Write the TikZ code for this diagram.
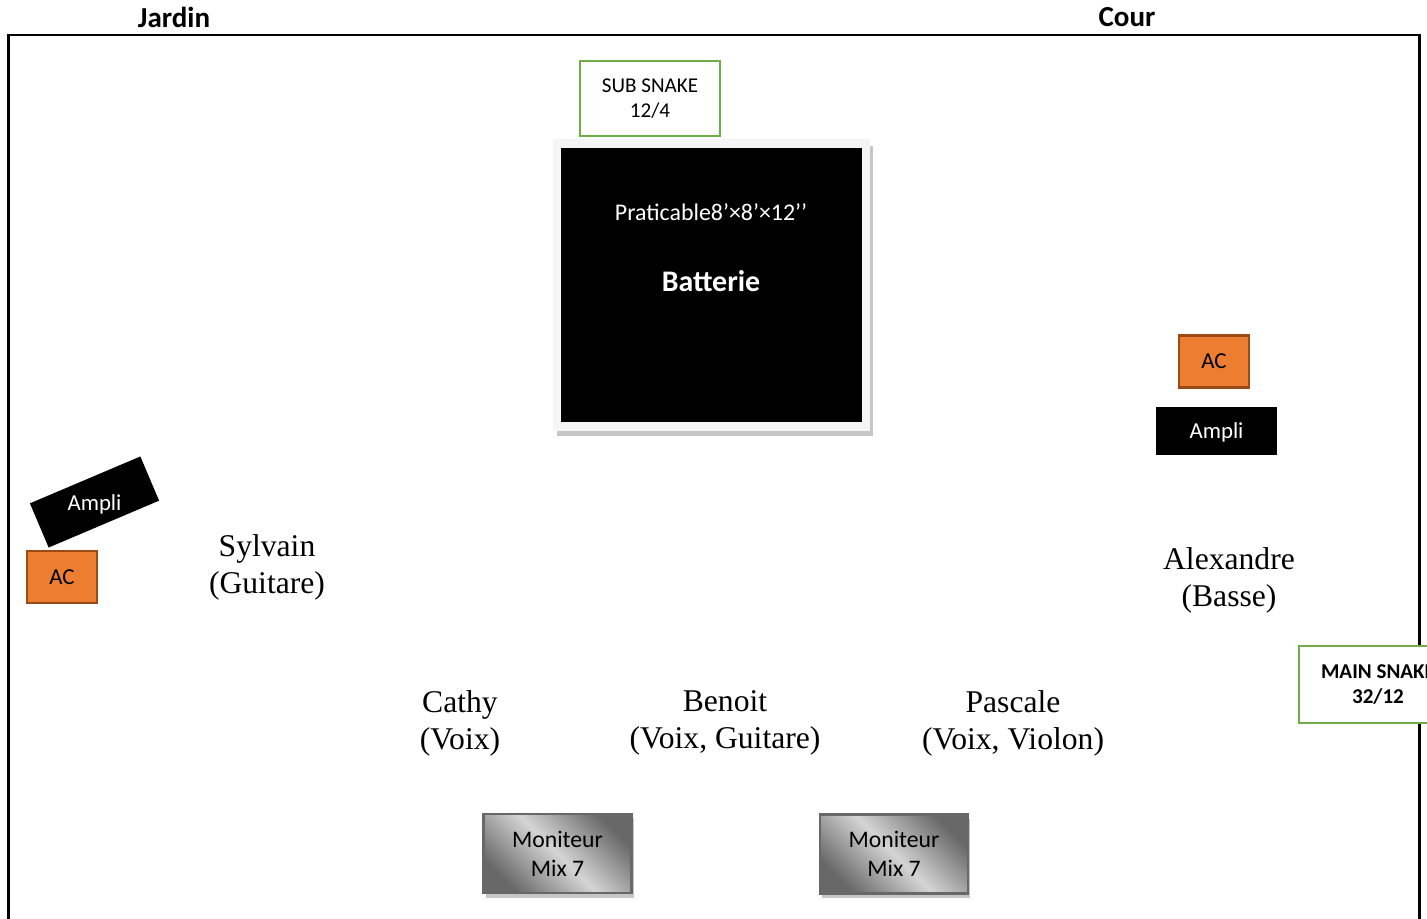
\documentclass[tikz,border=0pt]{standalone}
\usepackage{fontspec}
\setmainfont{Carlito}
\newfontfamily\namefont{Liberation Serif}
\definecolor{snakegreen}{HTML}{70AD47}
\definecolor{acorange}{HTML}{ED7D31}
\definecolor{acedge}{HTML}{9A4A14}
\definecolor{mondark}{HTML}{686868}
\definecolor{monlight}{HTML}{D4D4D4}
\pgfdeclarehorizontalshading{monshade}{100bp}{color(0bp)=(mondark); color(25bp)=(mondark);
    color(50bp)=(monlight); color(75bp)=(mondark); color(100bp)=(mondark)}
\begin{document}
\begin{tikzpicture}[x=0.02cm, y=-0.02cm,
    side/.style={font=\fontsize{16.5}{19}\selectfont\bfseries},
    tag/.style={font=\fontsize{13}{15}\selectfont, align=center},
    musician/.style={font=\namefont\fontsize{18}{21}\selectfont, align=center},
    snakebox/.style={draw=snakegreen, line width=1.2pt, fill=white, inner sep=0pt, align=center},
    acbox/.style={draw=acedge, line width=1.2pt, fill=acorange, inner sep=0pt,
        minimum width=1.4cm, minimum height=1.04cm, tag},
    amplibox/.style={fill=black, inner sep=0pt, minimum width=2.42cm, minimum height=0.96cm},
    monbox/.style={draw=mondark, line width=1.2pt, inner sep=0pt,
        shading=monshade, shading angle=45,
        minimum width=2.96cm, minimum height=1.58cm,
        font=\fontsize{13.5}{16.5}\selectfont, align=center}]
\useasboundingbox (0,0) rectangle (1427,919);

% Stage outline
\draw[line width=1.7pt] (8.5,930) -- (8.5,35) -- (1419.5,35) -- (1419.5,930);
\node[side] (jardin) at (174,17) {Jardin};
\node[side] (cour) at (1127,17) {Cour};

% Drum riser
\fill[gray!45] (557,146) rectangle (873,436);
\fill[gray!8] (553,139) rectangle (870,431);
\node[fill=black, inner sep=0pt, minimum width=6.02cm, minimum height=5.48cm] (riser) at (711.5,285) {};
\node[white, font=\fontsize{13.6}{15}\selectfont] (praticable) at (711,212) {Praticable8’×8’×12’’};
\node[white, font=\fontsize{17}{19}\selectfont\bfseries] (batterie) at (711,281) {Batterie};

% Snakes
\node[snakebox, minimum width=2.8cm, minimum height=1.5cm,
    font=\fontsize{12}{14.2}\selectfont] (subsnake) at (650,98.5) {SUB SNAKE\\12/4};
\node[snakebox, minimum width=3.16cm, minimum height=1.54cm,
    font=\fontsize{12}{14.2}\selectfont\bfseries] (mainsnake) at (1378,684.5) {MAIN SNAKE\\32/12};

% Amps and power
\node[amplibox, rotate=23, minimum width=2.4cm] (amplij) at (94.5,502) {};
\node[tag, white, yshift=-1.4pt] at (amplij.center) {Ampli};
\node[acbox] (acj) at (62,577) {AC};
\node[acbox] (acc) at (1214,361.5) {AC};
\node[amplibox] (amplic) at (1216.5,431) {};
\node[tag, white, yshift=-1pt] at (amplic.center) {Ampli};

% Musicians
\node[musician] (sylvain) at (267,567) {Sylvain\\(Guitare)};
\node[musician] (alexandre) at (1229,580) {Alexandre\\(Basse)};
\node[musician] (cathy) at (460,723) {Cathy\\(Voix)};
\node[musician] (benoit) at (725,723) {Benoit\\(Voix, Guitare)};
\node[musician] (pascale) at (1013,723) {Pascale\\(Voix, Violon)};

% Monitors
\fill[gray!45] (486,818) rectangle (634,898);
\fill[gray!45] (822,819) rectangle (970,898);
\node[monbox] (mon1) at (557.5,853.5) {Moniteur\\Mix 7};
\node[monbox] (mon2) at (894,854) {Moniteur\\Mix 7};
\end{tikzpicture}
\end{document}
